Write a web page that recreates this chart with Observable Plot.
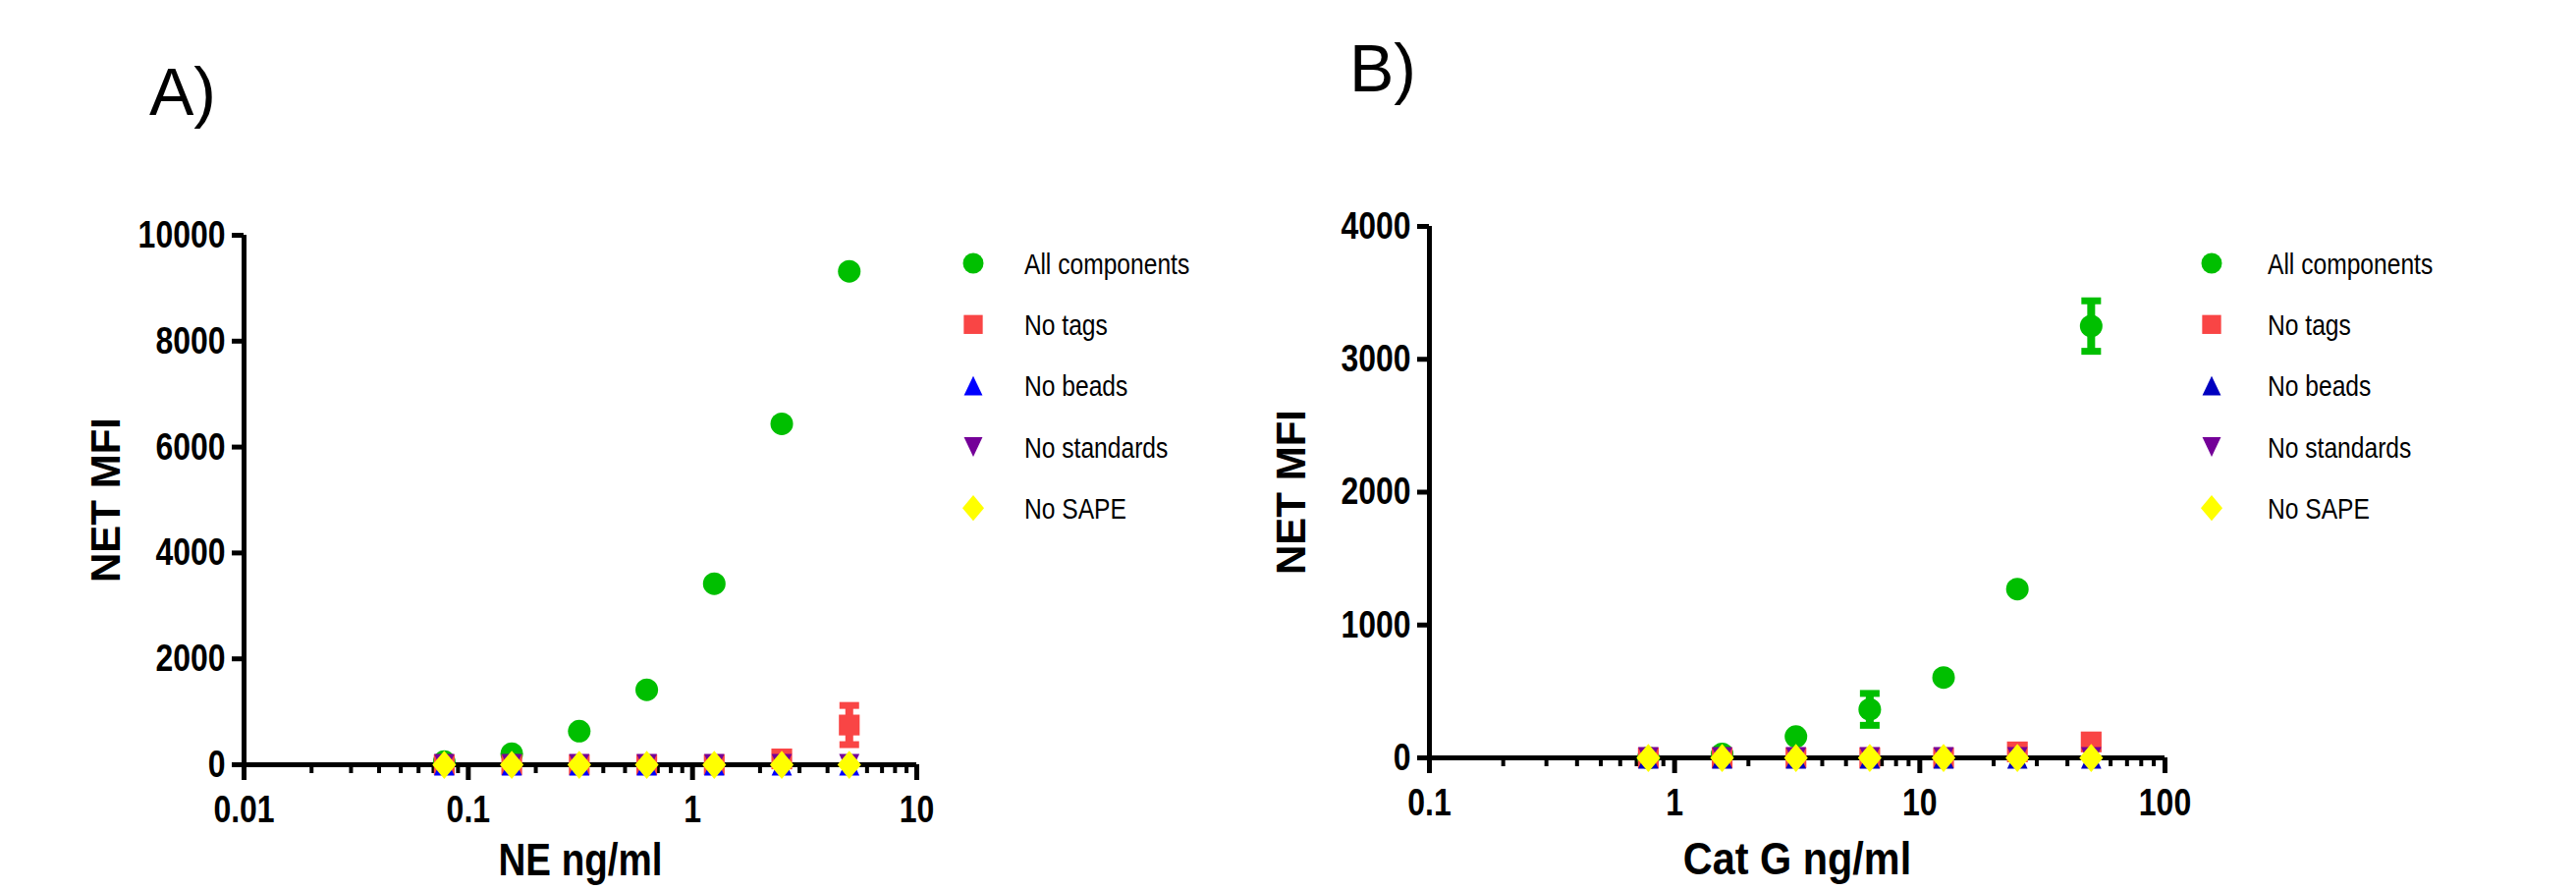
<!DOCTYPE html>
<html><head><meta charset="utf-8">
<script src="https://cdn.jsdelivr.net/npm/d3@7"></script>
<script src="https://cdn.jsdelivr.net/npm/@observablehq/plot@0.6"></script>
<style>
html,body{margin:0;padding:0;background:#fff;}
#page{position:relative;width:2623px;height:906px;overflow:hidden;background:#fff;}
#page > *{position:absolute;top:0;}
</style></head><body><div id="page"></div>
<script>
// ---------- data ----------
const seriesNames = ["All components", "No tags", "No beads", "No standards", "No SAPE"];
const colorsA = ["#00BF00", "#F94545", "#0000FF", "#740098", "#FFFF00"];
const colorsB = ["#00BF00", "#F94545", "#0000C0", "#740098", "#FFFF00"];
const symbolKeys = ["circle", "square", "triangleUp", "triangleDown", "diamond"];

// Panel A: NE
const concA = [0.078125, 0.15625, 0.3125, 0.625, 1.25, 2.5, 5];
const allA = [60, 210, 635, 1415, 3420, 6440, 9320];
const allAErr = [0, 0, 0, 0, 0, 0, 0];
const noTagsA = [0, 0, 0, 0, 0, 110, 750];
const noTagsAErr = [0, 0, 0, 0, 0, 0, 370];
const noBeadsA = [0, 0, 0, 0, 0, 0, 0];
const noStdA = [0, 0, 0, 0, 0, 0, 0];
const noSapeA = [0, 0, 0, 0, 0, 0, 0];
const xTicksA = [0.01, 0.1, 1, 10];
const xTickLabelsA = ["0.01", "0.1", "1", "10"];
const yTicksA = [0, 2000, 4000, 6000, 8000, 10000];
const xLabelA = "NE ng/ml";

// Panel B: Cat G
const concB = [0.78125, 1.5625, 3.125, 6.25, 12.5, 25, 50];
const allB = [0, 30, 160, 365, 605, 1270, 3250];
const allBErr = [0, 0, 0, 120, 0, 0, 190];
const noTagsB = [0, 0, 0, 0, 0, 45, 120];
const noTagsBErr = [0, 0, 0, 0, 0, 0, 0];
const noBeadsB = [0, 0, 0, 0, 0, 0, 0];
const noStdB = [0, 0, 0, 0, 0, 0, 0];
const noSapeB = [0, 0, 0, 0, 0, 0, 0];
const xTicksB = [0.1, 1, 10, 100];
const xTickLabelsB = ["0.1", "1", "10", "100"];
const yTicksB = [0, 1000, 2000, 3000, 4000];
const xLabelB = "Cat G ng/ml";

const yLabel = "NET MFI";
const panelLabels = ["A)", "B)"];

// ---------- styles ----------
// "NarrowNN" is a marker (not an installed face): texts using it are condensed to NN% width below.
const NARROW = "'Narrow82','Liberation Sans',Arial,sans-serif";
const NARROW90 = "'Narrow90','Liberation Sans',Arial,sans-serif";
const ARIAL = "'Liberation Sans',Arial,Helvetica,sans-serif";

const symbols = {
  circle: {draw(c, s) { const r = Math.sqrt(s / Math.PI); c.moveTo(r, 0); c.arc(0, 0, r, 0, 2 * Math.PI); c.closePath(); }},
  square: {draw(c, s) { const r = Math.sqrt(s / Math.PI) * 0.92; c.rect(-r, -r, 2 * r, 2 * r); }},
  triangleUp: {draw(c, s) { const r = Math.sqrt(s / Math.PI); c.moveTo(0, -0.95 * r); c.lineTo(0.9 * r, 0.95 * r); c.lineTo(-0.9 * r, 0.95 * r); c.closePath(); }},
  triangleDown: {draw(c, s) { const r = Math.sqrt(s / Math.PI); c.moveTo(0, 0.95 * r); c.lineTo(0.9 * r, -0.95 * r); c.lineTo(-0.9 * r, -0.95 * r); c.closePath(); }},
  diamond: {draw(c, s) { const r = Math.sqrt(s / Math.PI); c.moveTo(0, -1.25 * r); c.lineTo(1.05 * r, 0); c.lineTo(0, 1.25 * r); c.lineTo(-1.05 * r, 0); c.closePath(); }}
};
const capSymbol = {draw(c) { c.rect(-10, -3.5, 20, 7); }};

function makePanel(o) {
  const rows = o.series.map((s, k) => o.xs.map((x, i) => ({x, y: s.vals[i], err: s.errs ? s.errs[i] : 0, k})));
  const minor = d3.scaleLog().domain(o.xDomain).ticks()
    .filter(t => Math.abs(Math.log10(t) - Math.round(Math.log10(t))) > 1e-6);
  const marks = [];
  rows.forEach((r, k) => {
    const e = r.filter(d => d.err > 0);
    if (!e.length) return;
    marks.push(Plot.ruleX(e, {x: "x", y1: d => d.y - d.err, y2: d => d.y + d.err, stroke: o.colors[k], strokeWidth: 8}));
    marks.push(Plot.dot(e, {x: "x", y: d => d.y + d.err, symbol: capSymbol, fill: o.colors[k], r: 5}));
    marks.push(Plot.dot(e, {x: "x", y: d => d.y - d.err, symbol: capSymbol, fill: o.colors[k], r: 5}));
  });
  marks.push(Plot.axisX({ticks: minor, tickSize: 9, strokeWidth: 4, tickFormat: () => "", label: null}));
  marks.push(Plot.axisX({ticks: o.xTicks, tickSize: 16, strokeWidth: 5, tickPadding: 15,
    tickFormat: d => o.xTickLabels[o.xTicks.indexOf(d)], label: null,
    fontSize: 39, fontWeight: "bold", fontFamily: NARROW}));
  marks.push(Plot.axisY({ticks: o.yTicks, tickSize: 12, strokeWidth: 5, tickPadding: 7,
    tickFormat: d => String(d), label: null,
    fontSize: 39, fontWeight: "bold", fontFamily: NARROW}));
  marks.push(Plot.ruleY([o.yDomain[0]], {strokeWidth: 5, stroke: "black"}));
  marks.push(Plot.ruleX([o.xDomain[0]], {strokeWidth: 5, stroke: "black"}));
  rows.forEach((r, k) => {
    marks.push(Plot.dot(r, {x: "x", y: "y", symbol: symbols[symbolKeys[k]], r: 11.5, fill: o.colors[k], stroke: "none"}));
  });
  marks.push(Plot.text([yLabel], {frameAnchor: "left", dx: -140, rotate: -90, textAnchor: "middle", lineAnchor: "middle",
    fontSize: 42, fontWeight: "bold", fontFamily: ARIAL, fill: "black"}));
  marks.push(Plot.text([o.xLabel], {frameAnchor: "bottom", dy: o.xLabelDy, textAnchor: "middle", lineAnchor: "middle",
    fontSize: o.xLabelSize, fontWeight: "bold", fontFamily: o.xLabelFont, fill: "black"}));

  const svg = Plot.plot({
    width: o.width, height: 906,
    marginLeft: o.mL, marginRight: o.mR, marginTop: o.mT, marginBottom: o.mB,
    x: {type: "log", domain: o.xDomain},
    y: {type: "linear", domain: o.yDomain, nice: false},
    style: {background: "transparent", overflow: "visible", color: "black"},
    marks
  });
  svg.style.left = o.left + "px";
  return svg;
}

const page = document.getElementById("page");
page.appendChild(makePanel({
  xs: concA, xDomain: [0.01, 10], yDomain: [0, 10000], xTicks: xTicksA, xTickLabels: xTickLabelsA, yTicks: yTicksA,
  xLabel: xLabelA, xLabelDy: 97, xLabelSize: 47, xLabelFont: NARROW,
  colors: colorsA, left: 0, width: 960, mL: 248, mR: 27, mT: 239, mB: 128,
  series: [{vals: allA, errs: allAErr}, {vals: noTagsA, errs: noTagsAErr}, {vals: noBeadsA}, {vals: noStdA}, {vals: noSapeA}]
}));
page.appendChild(makePanel({
  xs: concB, xDomain: [0.1, 100], yDomain: [0, 4000], xTicks: xTicksB, xTickLabels: xTickLabelsB, yTicks: yTicksB,
  xLabel: xLabelB, xLabelDy: 104, xLabelSize: 46, xLabelFont: NARROW90,
  colors: colorsB, left: 1200, width: 1040, mL: 255, mR: 36, mT: 230, mB: 135,
  series: [{vals: allB, errs: allBErr}, {vals: noTagsB, errs: noTagsBErr}, {vals: noBeadsB}, {vals: noStdB}, {vals: noSapeB}]
}));

// overlay: panel letters and legends
const ov = d3.select(page).append("svg").attr("width", 2623).attr("height", 906)
  .style("left", "0px").style("pointer-events", "none");
ov.append("text").attr("x", 152).attr("y", 117).attr("font-family", ARIAL).attr("font-size", 68).text(panelLabels[0]);
ov.append("text").attr("x", 1374).attr("y", 93).attr("font-family", ARIAL).attr("font-size", 68).text(panelLabels[1]);

function legend(mx, tx, colors) {
  seriesNames.forEach((name, k) => {
    const y = 268 + k * 62.3;
    const p = d3.path();
    symbols[symbolKeys[k]].draw(p, Math.PI * 10.5 * 10.5);
    ov.append("path").attr("d", p.toString()).attr("transform", `translate(${mx},${y})`).attr("fill", colors[k]);
    ov.append("text").attr("x", tx).attr("y", y).attr("dy", "0.36em").attr("font-family", NARROW)
      .attr("font-size", 30).attr("fill", "black").text(name);
  });
}
legend(991, 1043, colorsA);
legend(2252, 2309, colorsB);

// condense texts set in a "NarrowNN" marker face (no narrow font is installed)
page.querySelectorAll("text").forEach(t => {
  const m = getComputedStyle(t).fontFamily.match(/Narrow(\d+)/);
  if (!m) return;
  const L = t.getComputedTextLength();
  if (L > 0) {
    t.setAttribute("textLength", (L * (+m[1]) / 100).toFixed(1));
    t.setAttribute("lengthAdjust", "spacingAndGlyphs");
  }
});
</script></body></html>
